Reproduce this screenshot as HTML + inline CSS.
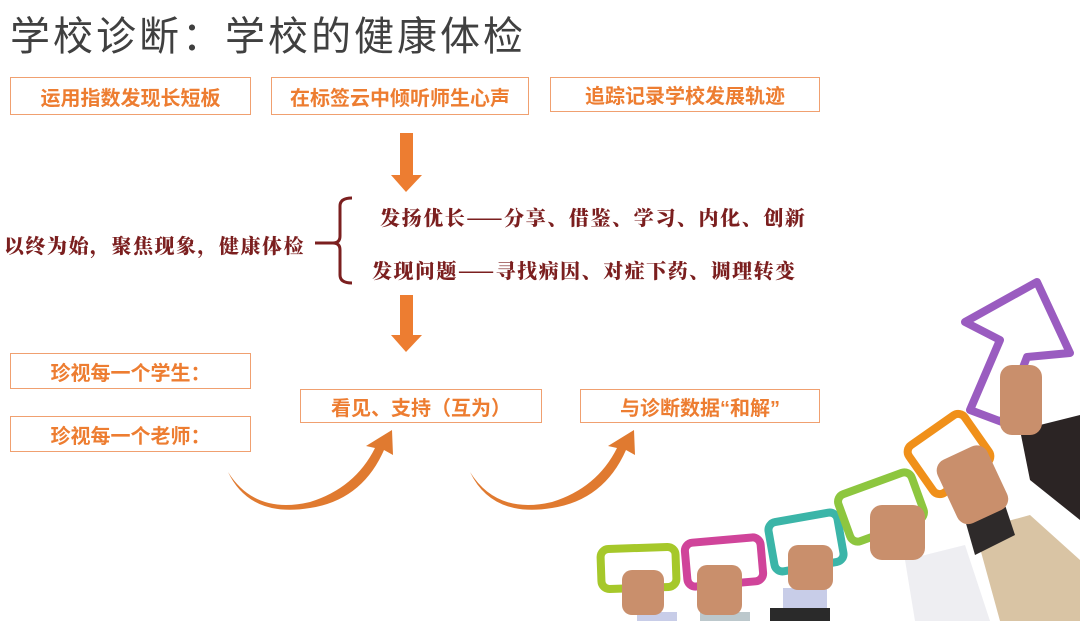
<!DOCTYPE html>
<html><head><meta charset="utf-8">
<style>
body{margin:0;width:1080px;height:621px;background:#fff;position:relative;overflow:hidden;font-family:"Liberation Sans","Noto Sans CJK SC",sans-serif}
.t{position:absolute;left:10px;top:4px;font-size:40px;color:#404040;letter-spacing:3px}
.b{position:absolute;border:1.5px solid #f0a070;box-sizing:border-box;color:#ed7d31;font-weight:bold;font-size:20px;display:flex;align-items:center;justify-content:center}
.r{position:absolute;color:#7b1f1f;font-weight:900;font-size:20px;font-family:"Noto Serif CJK SC","Noto Sans CJK SC",serif;white-space:nowrap}
</style></head><body>
<div class="t">学校诊断：学校的健康体检</div>
<div class="b" style="left:10px;top:77px;width:241px;height:38px">运用指数发现长短板</div>
<div class="b" style="left:271px;top:77px;width:258px;height:38px">在标签云中倾听师生心声</div>
<div class="b" style="left:550px;top:77px;width:270px;height:35px">追踪记录学校发展轨迹</div>
<div class="r" style="left:4px;top:230px;letter-spacing:1.5px">以终为始，聚焦现象，健康体检</div>
<div class="r" style="left:380px;top:202px;letter-spacing:1.6px">发扬优长——分享、借鉴、学习、内化、创新</div>
<div class="r" style="left:372px;top:255px;letter-spacing:1.5px">发现问题——寻找病因、对症下药、调理转变</div>
<div class="b" style="left:10px;top:353px;width:241px;height:36px">珍视每一个学生：</div>
<div class="b" style="left:10px;top:416px;width:241px;height:36px">珍视每一个老师：</div>
<div class="b" style="left:300px;top:389px;width:242px;height:34px">看见、支持（互为）</div>
<div class="b" style="left:580px;top:389px;width:240px;height:34px">与诊断数据“和解”</div>
<svg width="1080" height="621" style="position:absolute;left:0;top:0">
<rect x="400" y="133" width="13" height="43" fill="#ed7d31"/><polygon points="391,175 422,175 406,192" fill="#ed7d31"/>
<rect x="400" y="295" width="13" height="40" fill="#ed7d31"/><polygon points="391,335 422,335 406,352" fill="#ed7d31"/>
<path d="M352,198 Q340,198 340,206 L340,236 Q340,243 333,243 Q340,243 340,250 L340,275 Q340,283 352,283" fill="none" stroke="#7b1f1f" stroke-width="3"/>
<line x1="315" y1="243" x2="334" y2="243" stroke="#7b1f1f" stroke-width="3"/>
<path d="M228,472 Q255,515 310,502 Q355,488 375,448 L366,446 L392,430 L393,455 L384,450 Q362,500 310,508 Q250,518 228,472Z" fill="#e07a30"/>
<path d="M470,472 Q497,515 552,502 Q597,488 617,448 L608,446 L634,430 L635,455 L626,450 Q604,500 552,508 Q492,518 470,472Z" fill="#e07a30"/>
<polygon points="1020,430 1080,415 1080,520 1030,480" fill="#2b2424"/>
<polygon points="975,530 1030,515 1080,560 1080,621 1000,621" fill="#d9c4a4"/>
<polygon points="965,520 1005,505 1015,535 975,555" fill="#2e2a2a"/>
<polygon points="905,560 965,545 990,621 915,621" fill="#eeeef2"/>
<rect x="783" y="588" width="44" height="22" fill="#c8cde8"/>
<rect x="770" y="608" width="60" height="13" fill="#2a2a2a"/>
<rect x="637" y="612" width="40" height="9" fill="#c8cde8"/>
<rect x="700" y="612" width="50" height="9" fill="#bcc8cc"/>
<g fill="none" stroke-width="8" stroke-linejoin="round">
<rect x="601" y="548" width="75" height="40" rx="8" stroke="#a6c82a" transform="rotate(-2 638 568)"/>
<rect x="686" y="540" width="76" height="44" rx="8" stroke="#d0449a" transform="rotate(-5 724 562)"/>
<rect x="771" y="517" width="70" height="50" rx="8" stroke="#3bb5a8" transform="rotate(-10 806 542)"/>
<rect x="842" y="482" width="78" height="50" rx="8" stroke="#8dc63f" transform="rotate(-20 881 507)"/>
<rect x="915" y="425" width="68" height="58" rx="8" stroke="#f0901a" transform="rotate(-35 949 454)"/>
<polygon points="1037,282 965,322 1000,340 970,410 1002,422 1027,357 1070,353" stroke="#9a5cc0"/>
</g>
<g fill="#c98f6c">
<rect x="622" y="570" width="42" height="45" rx="10"/>
<rect x="697" y="565" width="45" height="50" rx="10"/>
<rect x="788" y="545" width="45" height="45" rx="10"/>
<rect x="870" y="505" width="55" height="55" rx="12"/>
<rect x="945" y="450" width="55" height="70" rx="12" transform="rotate(-25 972 485)"/>
<rect x="1000" y="365" width="42" height="70" rx="12"/>
</g>
</svg>
</body></html>
